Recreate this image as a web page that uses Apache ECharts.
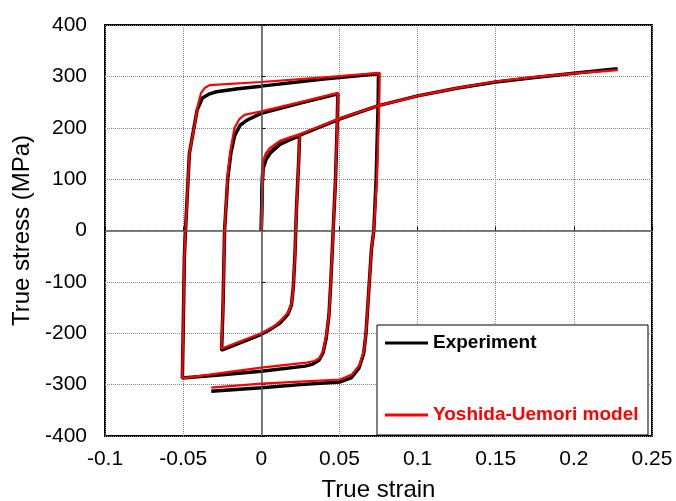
<!DOCTYPE html>
<html>
<head>
<meta charset="utf-8">
<script src="https://cdn.jsdelivr.net/npm/echarts@6/dist/echarts.min.js"></script>
<style>
  html, body { margin: 0; padding: 0; background: #fff; }
  #main { width: 676px; height: 501px; }
</style>
</head>
<body>
<div id="main"></div>
<script>
  // [true strain, true stress (MPa)]
  const expMonotonic = [
    [0, 0], [0.0005, 80], [0.001, 120], [0.003, 138], [0.006, 152], [0.012, 168],
    [0.025, 186], [0.05, 217], [0.075, 243], [0.1, 262], [0.125, 277],
    [0.15, 289], [0.175, 298], [0.2, 306], [0.228, 315]
  ]
  const expCyclic = [
    [0, 0], [0.0005, 80], [0.001, 120], [0.003, 140], [0.006, 152], [0.012, 168], [0.018, 177], [0.0245, 184],
    [0.024, 140], [0.0225, 40], [0.0215, -50], [0.0205, -110], [0.0193, -145], [0.017, -163], [0.012, -180],
    [0.006, -192], [0, -202], [-0.012, -217], [-0.0254, -233],
    [-0.0245, -150], [-0.0235, 0], [-0.0215, 100], [-0.0195, 150], [-0.017, 185], [-0.0135, 205],
    [-0.009, 215], [0, 228], [0.025, 248], [0.049, 266],
    [0.0485, 200], [0.0475, 100], [0.046, 0], [0.0445, -100], [0.0433, -165], [0.0415, -210],
    [0.0395, -238], [0.037, -252], [0.033, -260], [0.028, -264], [0, -274], [-0.025, -281], [-0.0505, -287],
    [-0.05, -200], [-0.0492, -50], [-0.0485, 0], [-0.046, 150], [-0.0425, 210], [-0.041, 235],
    [-0.0377, 258], [-0.033, 266], [-0.0287, 270], [-0.015, 276], [0, 281], [0.04, 295], [0.075, 305],
    [0.0748, 250], [0.0735, 100], [0.072, 0], [0.0705, -36], [0.0685, -130], [0.067, -200],
    [0.0655, -240], [0.0625, -268], [0.0575, -287], [0.05, -295], [0.025, -300], [0, -306], [-0.032, -313]
  ]
  const modelMonotonic = [
    [0, 0], [0.0008, 100], [0.0012, 135], [0.003, 150], [0.0055, 160], [0.0118, 174],
    [0.025, 188], [0.05, 218], [0.075, 243], [0.1, 262], [0.125, 277],
    [0.15, 290], [0.175, 299], [0.2, 306], [0.228, 312]
  ]
  const modelCyclic = [
    [0, 0], [0.0008, 100], [0.0012, 135], [0.003, 150], [0.0055, 160], [0.0118, 174], [0.018, 181], [0.0246, 187],
    [0.024, 140], [0.0225, 40], [0.0215, -50], [0.0205, -110], [0.0195, -140], [0.0175, -158], [0.0125, -175],
    [0.0085, -186], [0, -200], [-0.012, -214], [-0.0256, -230],
    [-0.0245, -150], [-0.0235, 0], [-0.0215, 110], [-0.0195, 160], [-0.0171, 200], [-0.014, 217],
    [-0.0107, 225], [0, 232], [0.025, 250], [0.0491, 268],
    [0.0485, 200], [0.0475, 100], [0.046, 0], [0.0445, -100], [0.0433, -165], [0.0415, -205],
    [0.0395, -235], [0.0374, -248], [0.034, -254], [0.029, -257], [0, -267], [-0.025, -277], [-0.0506, -288],
    [-0.05, -200], [-0.0492, -50], [-0.0485, 0], [-0.046, 150], [-0.0428, 203], [-0.0405, 245],
    [-0.0385, 268], [-0.036, 278], [-0.033, 283], [0, 289], [0.04, 298], [0.0758, 307],
    [0.0755, 250], [0.074, 100], [0.072, 0], [0.0705, -36], [0.0685, -130], [0.067, -197],
    [0.066, -229], [0.063, -261], [0.0577, -281], [0.0502, -290], [0.025, -294], [0, -298], [-0.032, -306]
  ]
  const legendNames = ['Experiment', 'Yoshida-Uemori model']
  const font = 'Liberation Sans, Arial, sans-serif'

  const chart = echarts.init(document.getElementById('main'))

  const curve = (name, data, color, width, z) => ({
    name: name,
    type: 'line',
    data: data,
    showSymbol: false,
    symbol: 'none',
    z: z,
    color: color,
    lineStyle: { color: color, width: width }
  })

  chart.setOption({
    animation: false,
    grid: {
      left: 105, right: 24, top: 25, bottom: 65,
      outerBoundsMode: 'none',
      containLabel: false,
      show: true, borderColor: '#000', borderWidth: 2, backgroundColor: 'transparent'
    },
    legend: {
      orient: 'vertical',
      left: 385,
      top: 333,
      padding: 0,
      itemGap: 52,
      itemWidth: 43,
      itemHeight: 3,
      icon: 'rect',
      z: 100,
      textStyle: { fontFamily: font, fontSize: 19, fontWeight: 'bold', lineHeight: 20 },
      data: [
        { name: legendNames[0], textStyle: { color: '#000' } },
        { name: legendNames[1], textStyle: { color: '#f00' } }
      ]
    },
    graphic: [{
      type: 'rect',
      z: 50,
      shape: { x: 377, y: 325, width: 271, height: 110 },
      style: { fill: '#fff', stroke: '#000', lineWidth: 1 }
    }],
    xAxis: {
      type: 'value',
      min: -0.1, max: 0.25, interval: 0.05,
      name: 'True strain',
      nameLocation: 'middle',
      nameGap: 42,
      nameTextStyle: { fontFamily: font, fontSize: 24, color: '#000' },
      axisLine: { show: false },
      axisTick: { show: true, inside: true, length: 4, lineStyle: { color: '#000' } },
      axisLabel: {
        fontFamily: font, fontSize: 21, color: '#000', margin: 13,
        formatter: v => String(+v.toFixed(2))
      },
      splitLine: { show: true, lineStyle: { color: '#888', type: 'dotted', width: 1 } }
    },
    yAxis: {
      type: 'value',
      min: -400, max: 400, interval: 100,
      name: 'True stress (MPa)',
      nameLocation: 'middle',
      nameGap: 62,
      nameTextStyle: { fontFamily: font, fontSize: 24, color: '#000' },
      axisLine: { show: false },
      axisTick: { show: true, inside: true, length: 4, lineStyle: { color: '#000' } },
      axisLabel: { fontFamily: font, fontSize: 21, color: '#000', margin: 18 },
      splitLine: { show: true, lineStyle: { color: '#888', type: 'dotted', width: 1 } }
    },
    series: [
      {
        type: 'line',
        data: [[0, 0]],
        symbol: 'none',
        z: 1,
        silent: true,
        markLine: {
          silent: true,
          symbol: ['none', 'none'],
          label: { show: false },
          lineStyle: { color: '#555', width: 1.5, type: 'solid' },
          data: [{ xAxis: 0 }, { yAxis: 0 }]
        }
      },
      curve(legendNames[0], expMonotonic, '#000', 3.5, 3),
      curve(legendNames[0], expCyclic, '#000', 3.5, 3),
      curve(legendNames[1], modelMonotonic, '#f00', 2.2, 4),
      curve(legendNames[1], modelCyclic, '#f00', 2.2, 4)
    ]
  })
</script>
</body>
</html>
